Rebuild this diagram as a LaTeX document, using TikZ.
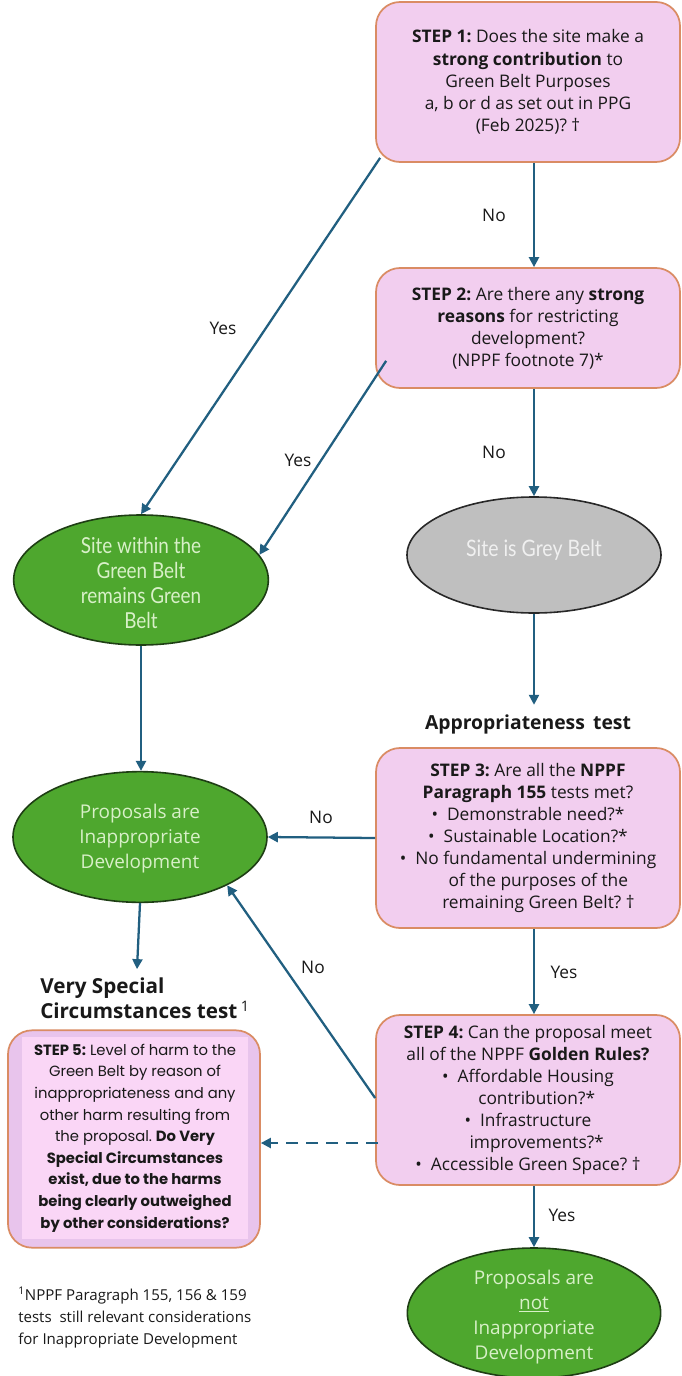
\documentclass[tikz,border=0pt]{standalone}
\usepackage{fontspec}
\setmainfont{Open Sans}
\newfontfamily\popfont{Poppins}
\newfontfamily\condfont[FakeStretch=0.86]{Lato}
\usetikzlibrary{arrows.meta,calc,shapes.geometric}
\frenchspacing
\definecolor{boxfill}{RGB}{242,206,239}
\definecolor{boxline}{RGB}{218,140,100}
\definecolor{gfill}{RGB}{78,167,46}
\definecolor{gline}{RGB}{30,62,20}
\definecolor{gtext}{RGB}{216,240,200}
\definecolor{greyfill}{RGB}{191,191,191}
\definecolor{greyline}{RGB}{40,40,40}
\definecolor{arrcol}{RGB}{33,95,128}
\definecolor{sfouter}{RGB}{232,196,236}
\definecolor{sfinner}{RGB}{250,214,246}
\definecolor{txt}{RGB}{25,25,25}
\tikzset{
  stepbox/.style={draw=boxline, fill=boxfill, line width=1.3pt, rounded corners=18pt,
    minimum width=228pt, align=center, text=txt, inner sep=0pt,
    font=\fontsize{13}{16.6}\selectfont},
  gell/.style={ellipse, draw=gline, fill=gfill, line width=1.2pt, inner sep=0pt},
  yell/.style={ellipse, draw=greyline, fill=greyfill, line width=1.2pt, inner sep=0pt},
  elltext/.style={align=center, text=gtext, inner sep=0pt},
  arr/.style={draw=arrcol, line width=1.7pt, -{Triangle[length=7.5pt,width=7.5pt]}},
  lbl/.style={text=txt, font=\fontsize{13}{15}\selectfont, inner sep=0pt},
  head/.style={text=txt, font=\bfseries\fontsize{14.5}{16}\selectfont, inner sep=0pt}
}
\begin{document}
\begin{tikzpicture}[x=0.75pt,y=-0.75pt]
\useasboundingbox (0,0) rectangle (681,1376);
\fill[white] (0,0) rectangle (681,1376);

% step boxes
\node[stepbox, minimum height=120pt] (s1) at (528,82) {\textbf{STEP 1:} Does the site make a\\ \textbf{strong contribution} to\\ Green Belt Purposes\\ a, b or d as set out in PPG\\ (Feb 2025)? \textdagger};
\node[stepbox, minimum height=90pt] (s2) at (528,328) {\textbf{STEP 2:} Are there any \textbf{strong}\\ \textbf{reasons} for restricting\\ development?\\ (NPPF footnote 7)*};
\node[stepbox, minimum height=135pt] (s3) at (528,838) {\textbf{STEP 3:} Are all the \textbf{NPPF}\\ \textbf{Paragraph 155} tests met?\\ \textbullet\ \ Demonstrable need?*\\ \textbullet\ \ Sustainable Location?*\\ \textbullet\ \ No fundamental undermining\\ \hspace*{1.2em}of the purposes of the\\ \hspace*{1.2em}remaining Green Belt? \textdagger};
\node[stepbox, minimum height=127.5pt] (s4) at (528,1100) {\textbf{STEP 4:} Can the proposal meet\\ all of the NPPF \textbf{Golden Rules?}\\ \textbullet\ \ Affordable Housing\\ \hspace*{1em}contribution?*\\ \textbullet\ \ Infrastructure\\ \hspace*{1em}improvements?*\\ \textbullet\ \ Accessible Green Space? \textdagger};

% step 5
\node[draw=boxline, fill=sfouter, line width=1.3pt, rounded corners=18pt, minimum width=189pt, minimum height=163pt, inner sep=0pt] (s5) at (134,1139) {};
\node[fill=sfinner, minimum width=169pt, minimum height=151pt, inner sep=0pt, align=center, text=txt, font=\popfont\fontsize{11.1}{16.2}\selectfont] (s5t) at (135,1138) {\textbf{STEP 5:} Level of harm to the\\ Green Belt by reason of\\ inappropriateness and any\\ other harm resulting from\\ the proposal. \textbf{Do Very}\\ \textbf{Special Circumstances}\\ \textbf{exist, due to the harms}\\ \textbf{being clearly outweighed}\\ \textbf{by other considerations?}};

% ellipses
\node[gell, minimum width=191pt, minimum height=97.5pt] (g1) at (141,580) {};
\node[elltext, font=\condfont\fontsize{16.5}{18.75}\selectfont] (g1t) at (141,583) {Site within the\\ Green Belt\\ remains Green\\ Belt};
\node[yell, minimum width=190.5pt, minimum height=87pt] (gy) at (534,555) {};
\node[align=center, text=white!94!black, inner sep=0pt, font=\condfont\fontsize{17}{18.75}\selectfont] (gyt) at (534,550) {Site is Grey Belt};
\node[gell, minimum width=190.5pt, minimum height=98pt] (g2) at (140,837) {};
\node[elltext, font=\fontsize{14.2}{18.75}\selectfont] (g2t) at (140,839) {Proposals are\\ Inappropriate\\ Development};
\node[gell, minimum width=190pt, minimum height=97.5pt] (g3) at (534,1313) {};
\node[elltext, font=\fontsize{14.2}{18.75}\selectfont] (g3t) at (534,1317) {Proposals are\\ \underline{not}\\ Inappropriate\\ Development};

% headings
\node[head] (apt) at (528,724) {Appropriateness\,\ test};
\node[head, font=\bfseries\fontsize{15.5}{18.5}\selectfont, align=left, anchor=north west] (vsc) at (40,978) {Very Special\\ Circumstances test\,\textsuperscript{\mdseries 1}};

% footnote
\node[align=left, anchor=north west, text=txt, inner sep=0pt, font=\fontsize{11.3}{16.5}\selectfont] (fn) at (18,1287) {\textsuperscript{1}NPPF Paragraph 155, 156 \& 159\\ tests\ \ still relevant considerations\\ for Inappropriate Development};

% labels
\node[lbl] (l1) at (494,215) {No};
\node[lbl] (l2) at (223,328) {Yes};
\node[lbl] (l3) at (298,460) {Yes};
\node[lbl] (l4) at (494,452) {No};
\node[lbl] (l5) at (321,817) {No};
\node[lbl] (l6) at (564,972) {Yes};
\node[lbl] (l7) at (313,967) {No};
\node[lbl] (l8) at (562,1215) {Yes};

% connectors
\draw[arr] (s1.south -| gy.center) -- (s2.north -| gy.center);
\draw[arr] ($(s1.south west)+(5,-5)$) -- (g1.north);
\draw[arr] ($(s2.south west)+(11,-28)$) -- (g1.12);
\draw[arr] (s2.south -| gy.center) -- (gy.north);
\draw[arr] (gy.south) -- ($(gy.south)+(0,91)$) coordinate (aptend);
\draw[arr] (g1.south) -- (g1.south |- g2.north);
\draw[arr] (s3.west) -- (g2.east);
\draw[arr] (s3.south -| gy.center) -- (s4.north -| gy.center);
\draw[arr] ($(s4.west)+(0,-2)$) -- (g2.-29);
\draw[arr, dashed, dash pattern=on 9pt off 6pt] ($(s4.west)+(3,43)$) coordinate (d1) -- (d1 -| s5.east);
\draw[arr] (g2.south) -- ($(g2.south)+(-3,66)$) coordinate (vscend);
\draw[arr] (s4.south -| gy.center) -- (g3.north);
\end{tikzpicture}
\end{document}
